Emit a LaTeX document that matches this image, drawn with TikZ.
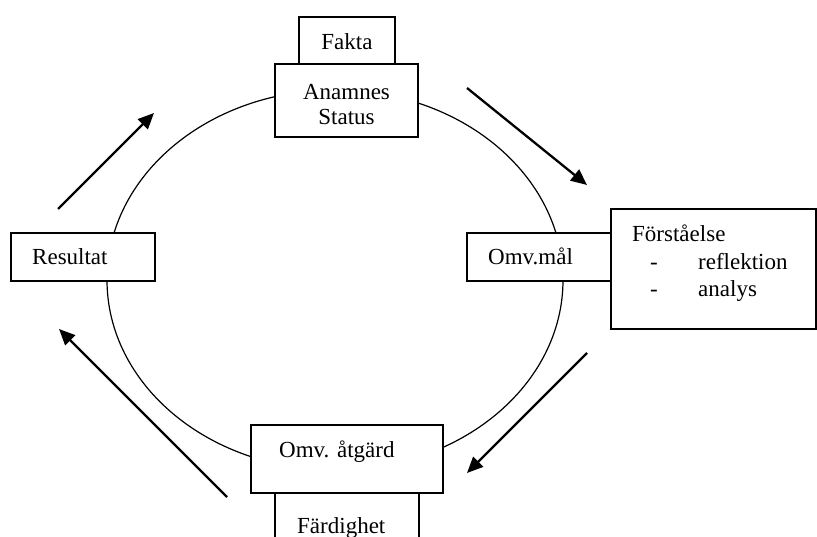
\documentclass[tikz,border=0pt]{standalone}
\usepackage{fontspec}
\setmainfont{Liberation Serif}
\usetikzlibrary{arrows.meta}
\begin{document}
\begin{tikzpicture}[x=1pt,y=-1pt,
  box/.style={draw, line width=1.3pt, fill=white, inner sep=0pt, outer sep=0pt, anchor=north west},
  lbl/.style={inner sep=0pt, font=\fontsize{23}{26}\selectfont},
  flow/.style={line width=2.3pt, -{Triangle[length=16pt,width=14pt]}},
  ring/.style={line width=1.2pt}]
\useasboundingbox (0,0) rectangle (817,537);
\clip (0,0) rectangle (817,537);
% cycle
\draw[ring] (335,280) ellipse [x radius=228, y radius=190];
% boxes
\node[box, minimum width=96pt, minimum height=47pt] (fakta) at (299,17) {};
\node[box, minimum width=143pt, minimum height=73pt] (anam) at (275,64) {};
\node[box, minimum width=144pt, minimum height=48pt] (res) at (11,233) {};
\node[box, minimum width=205pt, minimum height=120pt] (forst) at (611,209) {};
\node[box, minimum width=144pt, minimum height=48pt] (omvmal) at (467,233) {};
\node[box, minimum width=144pt, minimum height=60pt] (fard) at (275,493) {};
\node[box, minimum width=192pt, minimum height=68pt] (atg) at (251,425) {};
% texts
\node[lbl, anchor=base] (tfakta) at (347,50) {Fakta};
\node[lbl, anchor=base] (tanam) at (346.5,100) {Anamnes};
\node[lbl, anchor=base] (tstat) at (346.5,125) {Status};
\node[lbl, anchor=base west] (tres) at (32,265) {Resultat};
\node[lbl, anchor=base west] (tomv) at (488,265) {Omv.mål};
\node[lbl, anchor=base west] (tforst) at (632,242) {Förståelse};
\node[lbl, anchor=base west] (d1) at (650,270) {-};
\node[lbl, anchor=base west] (trefl) at (698,270) {reflektion};
\node[lbl, anchor=base west] (d2) at (650,297) {-};
\node[lbl, anchor=base west] (tanal) at (698,297) {analys};
\node[lbl, anchor=base west] (tatg) at (279,457) {Omv. åtgärd};
\node[lbl, anchor=base west] (tfard) at (297,533) {Färdighet};
% arrows
\coordinate (a1s) at (58,209);  \coordinate (a1e) at (154,113);
\coordinate (a2s) at (467,88);  \coordinate (a2e) at (587,185);
\coordinate (a3s) at (587,353); \coordinate (a3e) at (467,473);
\coordinate (a4s) at (227,497); \coordinate (a4e) at (59,329);
\draw[flow] (a1s) -- (a1e);
\draw[flow] (a2s) -- (a2e);
\draw[flow] (a3s) -- (a3e);
\draw[flow] (a4s) -- (a4e);
\end{tikzpicture}
\end{document}
